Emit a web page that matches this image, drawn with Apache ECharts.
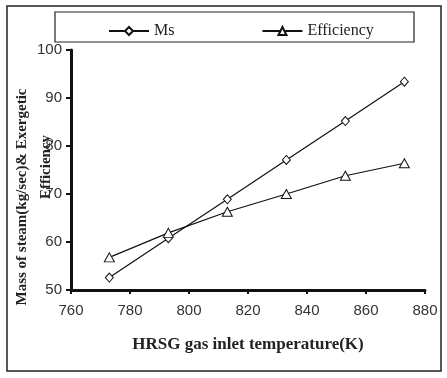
<!DOCTYPE html>
<html>
<head>
<meta charset="utf-8">
<script src="https://cdn.jsdelivr.net/npm/echarts@6/dist/echarts.min.js"></script>
<style>
  html, body { margin: 0; padding: 0; background: #fff; }
  #chart { width: 447px; height: 378px; }
</style>
</head>
<body>
<div id="chart"></div>
<script>
  // data
  var temps = [773, 793, 813, 833, 853, 873];
  var msData = [52.6, 60.8, 68.9, 77.1, 85.2, 93.4];
  var effData = [56.8, 61.9, 66.3, 70.0, 73.8, 76.4];

  var chart = echarts.init(document.getElementById('chart'));

  function pairs(xs, ys) {
    return xs.map(function (x, i) { return [x, ys[i]]; });
  }

  var serif = '"Liberation Serif", "DejaVu Serif", serif';
  var sans = '"Liberation Sans", Arial, sans-serif';

  var option = {
    backgroundColor: '#fff',
    animation: false,
    grid: { left: 71, right: 22, top: 50, bottom: 88, containLabel: false },
    legend: {
      left: 103,
      top: 18,
      itemWidth: 40,
      itemHeight: 10,
      itemGap: 87,
      textStyle: { fontFamily: serif, fontSize: 16, color: '#222' },
      data: ['Ms', 'Efficiency']
    },
    xAxis: {
      type: 'value',
      min: 760,
      max: 880,
      interval: 20,
      axisLine: { lineStyle: { color: '#111', width: 3 } },
      axisTick: { show: true, inside: false, length: 4, lineStyle: { color: '#111', width: 2 } },
      axisLabel: { fontFamily: sans, fontSize: 15, color: '#333', margin: 13 },
      splitLine: { show: false },
      name: 'HRSG gas inlet temperature(K)',
      nameLocation: 'middle',
      nameGap: 46,
      nameTextStyle: { fontFamily: serif, fontSize: 17, fontWeight: 'bold', color: '#222' }
    },
    yAxis: {
      type: 'value',
      min: 50,
      max: 100,
      interval: 10,
      axisLine: { show: true, lineStyle: { color: '#111', width: 3 } },
      axisTick: { show: true, length: 5, lineStyle: { color: '#111', width: 2 } },
      axisLabel: { fontFamily: sans, fontSize: 15, color: '#333', margin: 9 },
      splitLine: { show: false }
    },
    graphic: [
      {
        type: 'rect',
        shape: { x: 7, y: 6, width: 434, height: 365 },
        style: { fill: 'none', stroke: '#222', lineWidth: 1.5 },
        z: -1
      },
      {
        type: 'rect',
        shape: { x: 55, y: 12, width: 359, height: 30 },
        style: { fill: 'none', stroke: '#222', lineWidth: 1.2 },
        z: -1
      },
      {
        type: 'text',
        x: 22,
        y: 197,
        rotation: Math.PI / 2,
        style: {
          text: 'Mass of steam(kg/sec)& Exergetic',
          fontFamily: serif, fontSize: 15, fontWeight: 'bold', fill: '#222',
          align: 'center', verticalAlign: 'middle'
        }
      },
      {
        type: 'text',
        x: 46,
        y: 167,
        rotation: Math.PI / 2,
        style: {
          text: 'Efficiency',
          fontFamily: serif, fontSize: 15, fontWeight: 'bold', fill: '#222',
          align: 'center', verticalAlign: 'middle'
        }
      }
    ],
    series: [
      {
        name: 'Ms',
        type: 'line',
        data: pairs(temps, msData),
        symbol: 'diamond',
        symbolSize: [8, 9],
        lineStyle: { color: '#111', width: 1.2 },
        itemStyle: { color: '#fff', borderColor: '#111', borderWidth: 1 }
      },
      {
        name: 'Efficiency',
        type: 'line',
        data: pairs(temps, effData),
        symbol: 'triangle',
        symbolSize: [10, 9],
        lineStyle: { color: '#111', width: 1.2 },
        itemStyle: { color: '#fff', borderColor: '#111', borderWidth: 1 }
      }
    ]
  };

  chart.setOption(option);
</script>
</body>
</html>
